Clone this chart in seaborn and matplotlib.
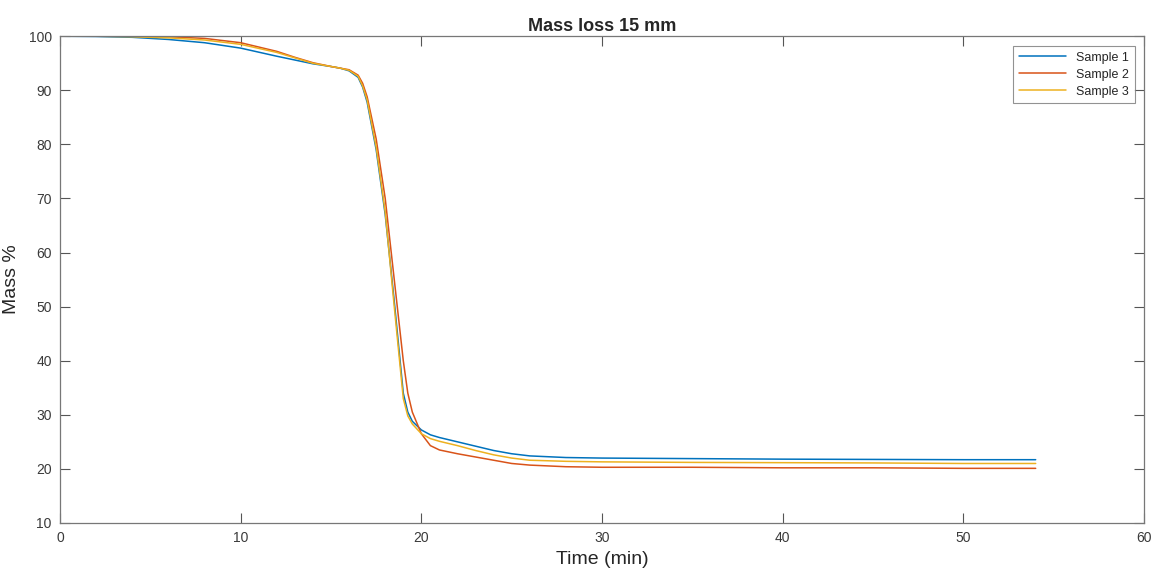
import numpy as np
import pandas as pd
import seaborn as sns
import matplotlib
matplotlib.use("Agg")
import matplotlib.pyplot as plt

# time grid (min)
time = [0, 2, 4, 6, 8, 10, 12, 13, 14, 15, 15.5, 16, 16.5, 16.75, 17, 17.5, 18, 18.5,
        19, 19.25, 19.5, 20, 20.5, 21, 22, 23, 24, 25, 26, 28, 30, 35, 40, 45, 50, 54]

sample_1 = [100, 99.95, 99.8, 99.4, 98.8, 97.8, 96.3, 95.6, 94.9, 94.4, 94.1, 93.6, 92.4,
            90.6, 87.8, 79.0, 67.0, 51.0, 34.0, 30.5, 28.8, 27.2, 26.3, 25.8, 25.0, 24.2,
            23.4, 22.8, 22.4, 22.1, 22.0, 21.9, 21.8, 21.75, 21.7, 21.7]
sample_2 = [100, 100, 100, 99.9, 99.6, 98.8, 97.2, 96.1, 95.1, 94.4, 94.1, 93.8, 92.8,
            91.3, 88.8, 81.0, 70.0, 55.0, 40.0, 34.0, 30.5, 26.5, 24.3, 23.5, 22.8, 22.2,
            21.6, 21.0, 20.7, 20.4, 20.3, 20.3, 20.2, 20.2, 20.1, 20.1]
sample_3 = [100, 100, 99.9, 99.7, 99.3, 98.5, 97.0, 96.0, 95.0, 94.4, 94.1, 93.7, 92.6,
            90.8, 88.2, 79.5, 67.5, 50.0, 33.0, 29.8, 28.3, 26.5, 25.6, 25.1, 24.3, 23.4,
            22.6, 22.0, 21.6, 21.4, 21.3, 21.2, 21.15, 21.1, 21.0, 21.0]

labels = ["Sample 1", "Sample 2", "Sample 3"]
colors = ["#0072BD", "#D95319", "#EDB120"]

df = pd.concat([
    pd.DataFrame({"time": time, "mass": vals, "sample": lab})
    for vals, lab in zip([sample_1, sample_2, sample_3], labels)
])

sns.set_style("white")
plt.rcParams["font.family"] = ["Liberation Sans", "DejaVu Sans"]

fig = plt.figure(figsize=(11.58, 5.74), dpi=100)
ax = fig.add_axes([0.0518, 0.0889, 0.9362, 0.848])

sns.lineplot(data=df, x="time", y="mass", hue="sample", palette=colors,
             linewidth=1.1, ax=ax, sort=False, estimator=None)

ax.set_xlim(0, 60)
ax.set_ylim(10, 100)
ax.set_xticks(range(0, 61, 10))
ax.set_yticks(range(10, 101, 10))
ax.tick_params(direction="in", length=7, width=0.8, colors="#555555",
               labelcolor="#3a3a3a", labelsize=10, top=True, right=True,
               bottom=True, left=True, pad=6)
for s in ax.spines.values():
    s.set_color("#777777")
    s.set_linewidth(0.9)

ax.set_title("Mass loss 15 mm", fontsize=13, fontweight="bold", pad=4)
ax.set_xlabel("Time (min)", fontsize=14, labelpad=4)
ax.set_ylabel("Mass %", fontsize=14, labelpad=6)

leg = ax.legend(loc="upper right", fontsize=9, frameon=True, fancybox=False,
                edgecolor="#777777", handlelength=3.8, borderpad=0.45,
                labelspacing=0.4, bbox_to_anchor=(0.997, 0.993))
leg.get_frame().set_linewidth(0.8)

fig.savefig("out.png", dpi=100)
